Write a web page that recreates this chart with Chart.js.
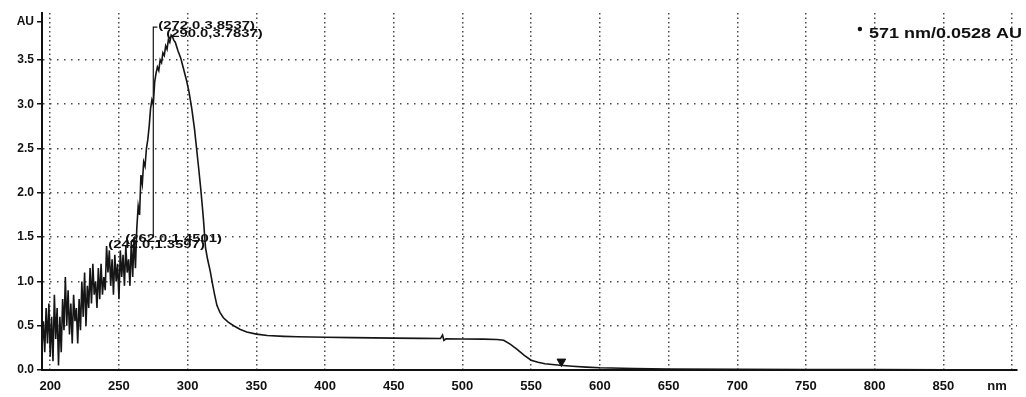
<!DOCTYPE html>
<html><head><meta charset="utf-8">
<script src="https://cdn.jsdelivr.net/npm/chart.js@4.4.0/dist/chart.umd.min.js"></script>
<style>html,body{margin:0;padding:0;background:#fff;} #wrap{width:1026px;height:397px;}</style>
</head><body><div id="wrap"><canvas id="c" width="1026" height="397"></canvas></div>
<script>
const wavelengthNm = [
194,195,196,197,198,199,200,201,202,203,204,205,206,207,208,209,210,211,212,213,214,215,216,217,218,219,
220,221,222,223,224,225,226,227,228,229,230,231,232,233,234,235,236,237,238,239,240,241,242,243,244,245,
246,247,248,249,250,251,252,253,254,255,256,257,258,259,260,261,262,263,264,265,266,267,268,269,270,271,
272,273,274,275,276,277,278,279,280,281,282,283,284,285,286,287,288,289,290,291,293,295,297,299,301,303,
305,306.5,308,309.5,310.5,311.5,312.2,313,314.5,316.4,318,319.5,321.3,323.5,326,329.5,333.5,338,343,350,
358,370,380,400,420,450,470,484,485.5,486.5,488,500,515,525,530,535,540,545,550,555,560,571,580,590,600,
625,650,700,750,800,850,900];
const absorbanceAU = [
0.25,0.55,0.2,0.7,0.3,0.75,0.15,0.6,0.1,0.85,0.35,0.7,0.05,0.6,0.2,0.8,0.45,1.05,0.5,0.9,0.4,0.75,0.3,0.85,0.55,0.7,
0.3,0.8,0.45,1.0,0.6,1.1,0.5,0.95,0.7,1.15,0.75,1.2,0.85,1.0,0.7,1.15,0.8,1.2,0.85,1.05,0.9,1.4,1.1,1.35,0.95,1.25,
0.85,1.3,1.0,1.2,0.8,1.35,1.05,1.3,0.95,1.4,1.1,1.25,0.95,1.45,1.05,1.5,1.15,1.6,1.85,1.75,2.2,2.1,2.35,2.3,2.5,2.6,
2.75,2.95,3.05,3.0,3.25,3.35,3.42,3.38,3.5,3.47,3.58,3.55,3.66,3.62,3.73,3.7,3.78,3.76,3.72,3.7,3.6,3.52,3.4,3.28,3.14,2.95,
2.72,2.5,2.28,2.05,1.88,1.7,1.55,1.38,1.25,1.12,0.98,0.86,0.73,0.65,0.59,0.54,0.5,0.46,0.43,0.405,
0.39,0.38,0.375,0.37,0.365,0.36,0.357,0.355,0.395,0.335,0.352,0.35,0.348,0.345,0.335,0.29,0.23,0.165,0.11,0.087,0.07,0.053,0.042,0.032,0.025,
0.017,0.012,0.008,0.006,0.004,0.003,0.002];

const markerNm = [275, 275, 278];
const markerAU = [1.52, 3.87, 3.87];
const arrowNm = [572];
const arrowAU = [0.095];

const xTickValues = [200,250,300,350,400,450,500,550,600,650,700,750,800,850,900];
const xUnitAt = 889;
const xUnitLabel = 'nm';
const yTickValues = [0,0.5,1.0,1.5,2.0,2.5,3.0,3.5];
const yUnitAt = 3.93;
const yUnitLabel = 'AU';

const peakLabels = ['(272.0,3.8537)', '(290.0,3.7837)', '(262.0,1.4501)', '(242.0,1.3597)'];
const peakLabelNm = [278.6, 284.4, 254.6, 242.2];
const peakLabelAU = [3.85, 3.76, 1.445, 1.377];
const cursorLabel = '571 nm/0.0528 AU';

const FONT = '"Liberation Sans", Arial, sans-serif';

const textPlugin = {
  id: 'texts',
  afterDatasetsDraw(chart) {
    const {ctx, scales: {x, y}, chartArea} = chart;
    ctx.save();
    ctx.fillStyle = '#111';
    ctx.font = 'bold 11px ' + FONT;
    ctx.textBaseline = 'alphabetic';
    peakLabels.forEach((t, i) => {
      const px = x.getPixelForValue(peakLabelNm[i]);
      const py = y.getPixelForValue(peakLabelAU[i]);
      ctx.save(); ctx.translate(px, py); ctx.scale(1.35, 1); ctx.fillText(t, 0, 0); ctx.restore();
    });
    ctx.font = 'bold 15px ' + FONT;
    const w = ctx.measureText(cursorLabel).width * 1.2;
    const rx = chartArea.right + 5, by = chartArea.top + 25;
    ctx.save(); ctx.translate(rx - w, by); ctx.scale(1.2, 1); ctx.fillText(cursorLabel, 0, 0); ctx.restore();
    ctx.beginPath(); ctx.arc(rx - w - 9, by - 9, 2.2, 0, Math.PI * 2); ctx.fill();
    ctx.restore();
  }
};

const spectrum = wavelengthNm.map((v, i) => ({x: v, y: absorbanceAU[i]}));
const marker = markerNm.map((v, i) => ({x: v, y: markerAU[i]}));
const arrow = arrowNm.map((v, i) => ({x: v, y: arrowAU[i]}));

new Chart(document.getElementById('c'), {
  type: 'scatter',
  data: {
    datasets: [
      {data: spectrum, showLine: true, borderColor: '#151515', borderWidth: 1.6, pointRadius: 0, tension: 0},
      {data: marker, showLine: true, borderColor: '#151515', borderWidth: 1.2, pointRadius: 0},
      {data: arrow, showLine: false, pointStyle: 'triangle', rotation: 180, pointRadius: 5, backgroundColor: '#111', borderColor: '#111'}
    ]
  },
  options: {
    responsive: false,
    animation: false,
    devicePixelRatio: 1,
    layout: {padding: {top: 13, right: 9, left: 0, bottom: 0}},
    plugins: {legend: {display: false}, tooltip: {enabled: false}},
    scales: {
      x: {
        type: 'linear', min: 194, max: 903.6,
        afterBuildTicks: s => { s.ticks = xTickValues.concat([xUnitAt]).map(v => ({value: v})); },
        afterFit: s => { s.height = 27; },
        ticks: {
          autoSkip: false, maxRotation: 0, padding: 9, color: '#111',
          font: {family: FONT, size: 13, weight: 'bold'},
          callback: v => v === xUnitAt ? xUnitLabel : (v === 900 ? '' : String(v))
        },
        grid: {
          drawTicks: false, lineWidth: 1.5,
          color: c => (c.tick && c.tick.value === xUnitAt) ? 'rgba(0,0,0,0)' : '#4a4a4a'
        },
        border: {display: true, color: '#111', width: 2, dash: [1.5, 3]}
      },
      y: {
        type: 'linear', min: 0, max: 4.03,
        afterBuildTicks: s => { s.ticks = yTickValues.concat([yUnitAt]).map(v => ({value: v})); },
        afterFit: s => { s.width = 42; },
        ticks: {
          autoSkip: false, padding: 3, color: '#111',
          font: {family: FONT, size: 12, weight: 'bold'},
          callback: v => v === yUnitAt ? yUnitLabel : v.toFixed(1)
        },
        grid: {
          drawTicks: true, tickLength: 5, lineWidth: 1.5, tickColor: '#111', tickWidth: 1.5,
          color: c => (c.tick && (c.tick.value === 0 || c.tick.value === yUnitAt)) ? 'rgba(0,0,0,0)' : '#4a4a4a'
        },
        border: {display: true, color: '#111', width: 2, dash: [1.5, 5.5]}
      }
    }
  },
  plugins: [textPlugin]
});
</script>
</body></html>
